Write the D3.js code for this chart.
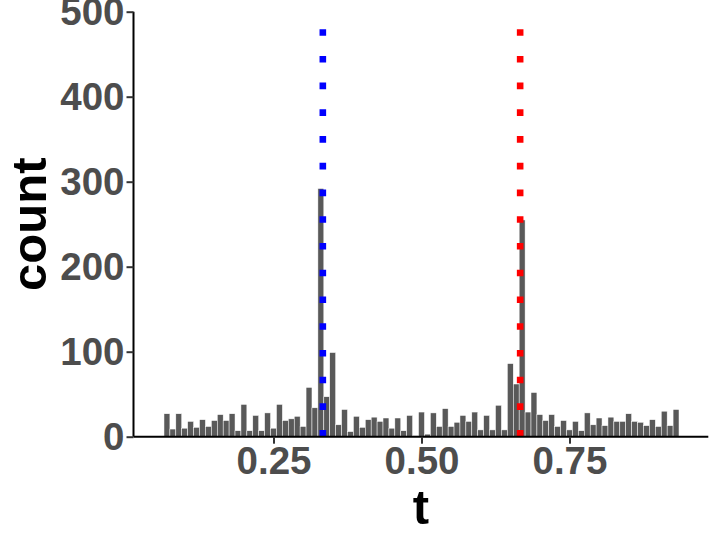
<!DOCTYPE html>
<html>
<head>
<meta charset="utf-8">
<script src="https://cdn.jsdelivr.net/npm/d3@7"></script>
<style>
  html, body { margin: 0; padding: 0; background: #ffffff; }
  svg { display: block; }
</style>
</head>
<body>
<svg id="chart" width="719" height="540"></svg>
<script>
// ---- data ----
const binWidth = 0.01;
const binCenters = [0.07,0.08,0.09,0.10,0.11,0.12,0.13,0.14,0.15,0.16,0.17,0.18,0.19,0.20,0.21,0.22,0.23,0.24,0.25,0.26,0.27,0.28,0.29,0.30,0.31,0.32,0.33,0.34,0.35,0.36,0.37,0.38,0.39,0.40,0.41,0.42,0.43,0.44,0.45,0.46,0.47,0.48,0.49,0.50,0.51,0.52,0.53,0.54,0.55,0.56,0.57,0.58,0.59,0.60,0.61,0.62,0.63,0.64,0.65,0.66,0.67,0.68,0.69,0.70,0.71,0.72,0.73,0.74,0.75,0.76,0.77,0.78,0.79,0.80,0.81,0.82,0.83,0.84,0.85,0.86,0.87,0.88,0.89,0.90,0.91,0.92,0.93];
const counts = [27,9,27,10,18,11,20,12,19,26,19,27,7,38,7,25,7,28,10,38,19,21,24,12,58,34,292,47,99,14,32,6,24,11,20,23,18,22,10,22,7,25,1,29,3,28,12,33,12,17,25,18,29,8,25,8,37,8,86,62,255,29,52,26,19,26,12,19,8,18,7,28,14,22,13,23,18,18,27,18,17,13,20,12,30,13,32];
const vlinePositions = [1/3, 2/3];
const vlineColors = ["#0000FF", "#FF0000"];
const xTickValues = [0.25, 0.50, 0.75];
const xTickLabels = ["0.25", "0.50", "0.75"];
const yTickValues = [0, 100, 200, 300, 400, 500];
const xTitle = "t";
const yTitle = "count";

// ---- layout ----
const svg = d3.select("#chart");
const pLeft = 133.5, pRight = 708.3, pBottom = 436.7, pTop = 11.7;
const x = d3.scaleLinear().domain([0.0135, 0.9845]).range([pLeft, pRight]);
const y = d3.scaleLinear().domain([0, 500]).range([pBottom, pTop]);

const fontFam = "'Liberation Sans', Arial, Helvetica, sans-serif";
const tickFont = 38.5;

// bars
const bars = binCenters.map((c, i) => ({c, n: counts[i]}));
svg.append("g").selectAll("rect").data(bars).join("rect")
  .attr("x", d => x(d.c - binWidth / 2))
  .attr("width", d => x(d.c + binWidth / 2) - x(d.c - binWidth / 2))
  .attr("y", d => y(d.n))
  .attr("height", d => y(0) - y(d.n))
  .attr("fill", "#595959")
  .attr("stroke", "#ffffff")
  .attr("stroke-width", 0.5);

// dotted vertical lines
const lw = 6.6;
svg.append("g").selectAll("line").data(vlinePositions).join("line")
  .attr("x1", d => x(d)).attr("x2", d => x(d))
  .attr("y1", y(0)).attr("y2", y(500))
  .attr("stroke", (d, i) => vlineColors[i])
  .attr("stroke-width", lw)
  .attr("stroke-dasharray", `${lw},${lw * 3.05}`);

// x axis
const xAxis = d3.axisBottom(x).tickValues(xTickValues)
  .tickFormat((d, i) => xTickLabels[i]).tickSize(7).tickPadding(3);
const gx = svg.append("g").attr("transform", `translate(0,${pBottom})`).call(xAxis);
gx.select(".domain").attr("stroke", "#000").attr("stroke-width", 2)
  .attr("d", `M${pLeft},0H${pRight}`);
gx.selectAll(".tick line").attr("stroke", "#333333").attr("stroke-width", 2);
gx.selectAll(".tick text")
  .attr("font-family", fontFam).attr("font-weight", "bold")
  .attr("font-size", tickFont).attr("fill", "#4D4D4D")
  .attr("dy", "0.71em");

// y axis
const yAxis = d3.axisLeft(y).tickValues(yTickValues).tickSize(7).tickPadding(2);
const gy = svg.append("g").attr("transform", `translate(${pLeft},0)`).call(yAxis);
gy.select(".domain").attr("stroke", "#000").attr("stroke-width", 2)
  .attr("d", `M0,${pTop}V${pBottom}`);
gy.selectAll(".tick line").attr("stroke", "#333333").attr("stroke-width", 2);
gy.selectAll(".tick text")
  .attr("font-family", fontFam).attr("font-weight", "bold")
  .attr("font-size", tickFont).attr("fill", "#4D4D4D");

// titles
svg.append("text")
  .attr("x", (pLeft + pRight) / 2).attr("y", 524)
  .attr("text-anchor", "middle")
  .attr("font-family", fontFam).attr("font-weight", "bold")
  .attr("font-size", 49).attr("fill", "#000")
  .text(xTitle);

svg.append("text")
  .attr("transform", `translate(46,${(pTop + pBottom) / 2}) rotate(-90)`)
  .attr("text-anchor", "middle")
  .attr("font-family", fontFam).attr("font-weight", "bold")
  .attr("font-size", 49).attr("fill", "#000")
  .text(yTitle);
</script>
</body>
</html>
